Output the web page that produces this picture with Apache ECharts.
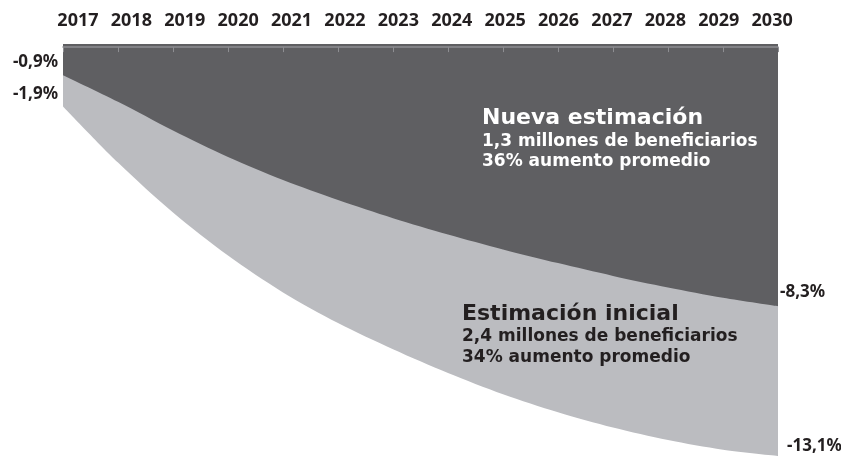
<!DOCTYPE html>
<html>
<head>
<meta charset="utf-8">
<script src="https://cdn.jsdelivr.net/npm/echarts@6/dist/echarts.min.js"></script>
<style>
  html, body { margin: 0; padding: 0; background: #fff; }
  #chart { width: 841px; height: 456px; }
</style>
</head>
<body>
<div id="chart"></div>
<script>
// Years along the top axis
const years = [2017, 2018, 2019, 2020, 2021, 2022, 2023, 2024, 2025, 2026, 2027, 2028, 2029, 2030];

// Projected change (%) – new estimate
const nuevaEstimacion = [-0.9, -1.75, -2.67, -3.52, -4.26, -4.90, -5.48, -6.00, -6.48, -6.92, -7.33, -7.70, -8.03, -8.3];

// Projected change (%) – initial estimate
const estimacionInicial = [-1.9, -3.70, -5.30, -6.68, -7.86, -8.84, -9.68, -10.44, -11.12, -11.70, -12.19, -12.59, -12.90, -13.1];

// Annotation text blocks
const nuevaTexto = ['Nueva estimación', '1,3 millones de beneficiarios', '36% aumento promedio'];
const inicialTexto = ['Estimación inicial', '2,4 millones de beneficiarios', '34% aumento promedio'];

const FONT = '"Noto Sans", "DejaVu Sans", sans-serif';
const NOTE_FONT = '"DejaVu Sans", "Noto Sans", sans-serif';
const INK = '#231f20';

const fmt = v => v.toFixed(1).replace('.', ',') + '%';

// Only the first and last points carry a value label
function buildData(values, firstLabel, lastLabel) {
  return values.map((v, i) => {
    const item = { value: [years[i], v] };
    if (i === 0) item.label = firstLabel;
    if (i === values.length - 1) item.label = lastLabel;
    return item;
  });
}

const labelBase = {
  show: true,
  formatter: p => fmt(p.value[1]),
  fontFamily: FONT,
  fontWeight: 'bold',
  fontSize: 17,
  color: INK
};

function note(x, y, text, size, fill) {
  return {
    type: 'text', x: x, y: y, z: 20,
    style: { text: text, fontFamily: NOTE_FONT, fontWeight: 'bold', fontSize: size, fill: fill, verticalAlign: 'middle' }
  };
}

const chart = echarts.init(document.getElementById('chart'), null, { renderer: 'canvas' });

chart.setOption({
  animation: false,
  backgroundColor: '#ffffff',
  grid: { left: 63, right: 63, top: 44, bottom: 0, containLabel: false },
  xAxis: [
    {
      // plot frame: top edge with small ticks at each year
      type: 'value',
      position: 'top',
      min: 2017,
      max: 2030,
      interval: 1,
      z: 10,
      axisLine: { show: true, lineStyle: { color: '#8e8e92', width: 1.5 } },
      axisTick: { show: true, inside: true, length: 5, lineStyle: { color: '#8e8e92', width: 1 } },
      axisLabel: { show: false },
      splitLine: { show: false }
    },
    {
      // year labels
      type: 'value',
      position: 'top',
      min: 2016.72,
      max: 2030.11,
      axisLine: { show: false },
      axisTick: { show: false },
      splitLine: { show: false },
      axisLabel: {
        show: true,
        customValues: years,
        formatter: v => String(Math.round(v)),
        margin: 14,
        fontFamily: FONT,
        fontWeight: 'bold',
        fontSize: 18,
        color: INK
      }
    }
  ],
  yAxis: {
    type: 'value',
    min: -13.1,
    max: 0.1,
    show: false
  },
  series: [
    {
      name: 'Estimación inicial',
      type: 'line',
      xAxisIndex: 0,
      smooth: 0.3,
      z: 2,
      symbolSize: 0,
      lineStyle: { width: 0 },
      itemStyle: { color: '#bbbcc0' },
      areaStyle: { color: '#bbbcc0', opacity: 1, origin: 'end' },
      label: { show: false },
      data: buildData(
        estimacionInicial,
        Object.assign({}, labelBase, { position: 'left', distance: 5, offset: [0, -12] }),
        Object.assign({}, labelBase, { position: 'right', distance: 9, offset: [0, -10] })
      )
    },
    {
      name: 'Nueva estimación',
      type: 'line',
      xAxisIndex: 0,
      smooth: 0.3,
      z: 3,
      symbolSize: 0,
      lineStyle: { width: 0 },
      itemStyle: { color: '#5f5f62' },
      areaStyle: { color: '#5f5f62', opacity: 1, origin: 'end' },
      label: { show: false },
      data: buildData(
        nuevaEstimacion,
        Object.assign({}, labelBase, { position: 'left', distance: 5, offset: [0, -13] }),
        Object.assign({}, labelBase, { position: 'right', distance: 2, offset: [0, -14] })
      )
    }
  ],
  graphic: [
    note(482, 118, nuevaTexto[0], 22, '#ffffff'),
    note(482, 142, nuevaTexto[1], 17, '#ffffff'),
    note(482, 162, nuevaTexto[2], 17, '#ffffff'),
    note(462, 314, inicialTexto[0], 22, INK),
    note(462, 337, inicialTexto[1], 17, INK),
    note(462, 358, inicialTexto[2], 17, INK)
  ]
});
</script>
</body>
</html>
